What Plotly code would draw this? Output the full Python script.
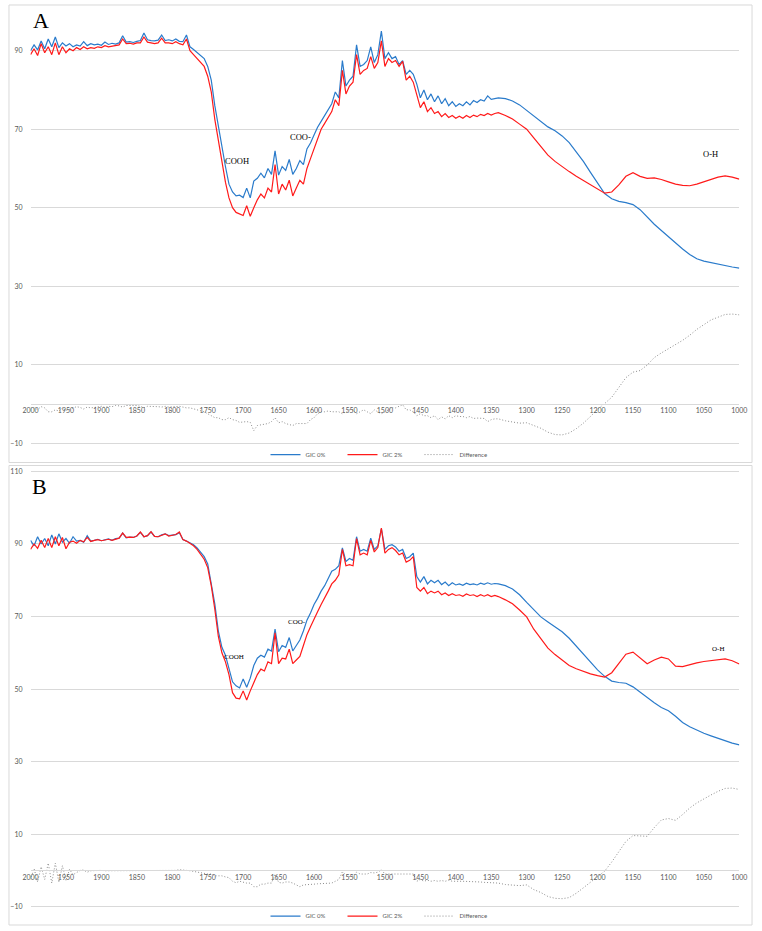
import plotly.graph_objects as go

# ---------------- data ----------------
wavenumber = list(range(2000, 1340, -5)) + list(range(1340, 999, -10))
x_ticks = list(range(2000, 999, -50))
y_ticks = [-10, 10, 30, 50, 70, 90, 110]

gic0_A = [
    90.0, 91.5, 90.2, 92.5, 90.5, 93.0, 91.0, 93.5, 90.8, 92.0,
    91.2, 91.8, 91.0, 91.5, 91.2, 92.3, 91.3, 91.8, 91.5, 91.7,
    91.4, 92.2, 91.6, 91.9, 91.7, 92.0, 93.8, 92.2, 92.3, 92.1,
    92.4, 92.6, 94.5, 92.8, 92.6, 92.5, 92.7, 94.0, 92.6, 92.8,
    92.5, 93.0, 92.4, 92.3, 94.0, 91.0, 90.3, 89.5, 88.7, 88.0,
    86.0, 82.5, 76.0, 70.5, 65.5, 60.5, 56.0, 54.0, 53.0, 53.2,
    52.6, 55.0, 52.5, 56.8, 57.5, 58.8, 57.6, 60.0, 58.5, 64.5,
    58.3, 60.5, 59.5, 62.3, 58.5, 60.0, 62.0, 61.0, 65.0, 66.5,
    68.5, 70.5, 72.0, 73.5, 74.8, 76.5, 79.5, 78.0, 87.5, 81.0,
    82.5, 83.5, 91.5, 86.0, 86.5, 87.5, 91.0, 87.0, 89.0, 95.0,
    88.0, 89.5, 88.0, 88.5, 86.5, 87.5, 84.0, 85.0, 84.0, 81.5,
    78.0, 80.0, 77.5, 79.0, 77.0, 78.5, 76.5, 77.8, 76.0, 77.0,
    75.8, 76.5, 76.0, 77.0, 76.2, 77.3, 76.8, 77.5, 77.2, 78.5,
    77.6, 77.8,
    78.0, 77.8, 77.2, 76.2, 74.8, 73.3, 71.8, 70.6, 69.6, 68.3,
    66.6, 64.3, 61.8, 59.0, 56.2, 53.6, 52.3, 51.6, 51.3, 50.8,
    49.5, 47.6, 45.8, 44.2, 42.6, 41.0, 39.5, 38.1, 37.0, 36.4,
    36.0, 35.7, 35.3, 34.9, 34.6,
]

gic2_A = [
    89.0, 90.5, 88.8, 91.8, 89.5, 91.0, 89.0, 92.0, 89.0, 91.0,
    89.5, 90.5, 90.0, 90.8, 90.3, 91.0, 90.5, 90.8, 90.6, 91.0,
    90.8, 91.3, 91.0, 91.2, 91.3, 91.5, 93.0, 91.8, 91.9, 91.7,
    92.0, 92.0, 93.5, 92.2, 92.0, 91.8, 92.0, 93.2, 92.0, 92.0,
    91.8, 92.3, 91.8, 91.5, 93.0, 90.0, 89.0, 88.0, 87.0, 86.0,
    83.5, 79.5, 72.5, 67.0, 61.5, 56.5, 52.5, 50.0, 48.8, 48.5,
    48.0, 50.5, 47.8, 50.0, 52.0, 53.5, 52.5, 55.0, 54.0, 61.0,
    53.5, 56.0, 54.5, 57.0, 53.0, 55.0, 57.0, 56.0, 60.0, 62.5,
    65.0, 68.0, 70.0, 71.5, 73.0, 74.5, 77.5, 76.0, 85.0, 79.0,
    81.0, 82.0, 89.0, 84.0, 85.0, 85.5, 88.5, 85.5, 87.0, 92.5,
    86.0, 88.0, 87.0, 87.5, 86.0, 87.3, 82.5, 83.5, 82.0, 78.5,
    75.5, 77.0, 74.5, 75.5, 74.0, 74.5, 73.2, 74.0, 73.0, 73.5,
    72.8, 73.3, 72.8, 73.5, 73.0, 73.6, 73.2, 73.8, 73.5, 74.0,
    73.6, 74.0,
    74.2, 73.5, 72.6, 71.3, 70.0, 67.8, 65.6, 63.4, 61.8, 60.4,
    59.2, 58.0, 56.9, 55.8, 54.8, 53.7, 54.0, 55.8, 58.0, 58.9,
    58.0, 57.5, 57.6, 57.2, 56.6, 56.0, 55.7, 55.6, 56.0, 56.6,
    57.4, 57.8, 58.1, 57.8, 57.3,
]

gic0_B = [
    91.0, 89.5, 92.0, 90.0, 91.5, 89.5, 92.5, 90.0, 92.8, 90.5,
    91.5, 90.2, 92.0, 90.8, 91.0, 90.5, 92.3, 90.8, 91.0, 91.3,
    90.9, 91.2, 91.4, 91.0, 91.5, 91.6, 93.0, 91.7, 91.9, 91.8,
    92.2, 93.2, 92.0, 92.3, 93.3, 92.1, 92.0, 92.5, 92.8, 92.3,
    92.5, 92.6, 93.1, 91.2, 90.8, 90.3, 89.8, 88.9, 87.8, 86.5,
    84.5, 79.5, 73.5, 66.0, 61.5, 59.3, 56.0, 52.0, 50.9, 50.3,
    52.8, 50.5, 53.0, 56.5, 58.5, 59.3, 58.8, 61.0, 60.5, 66.5,
    60.3, 62.0, 61.5, 64.2, 60.5, 62.0, 63.5, 66.0, 69.0, 71.0,
    73.3, 75.0, 77.0, 78.5, 80.5, 82.5, 83.0, 84.0, 88.9, 85.2,
    86.0, 85.5, 92.0, 88.0, 88.5, 88.0, 91.6, 88.5, 89.5, 94.2,
    88.5, 89.5, 89.8, 89.2, 88.0, 88.5, 86.0, 86.5, 87.5, 81.0,
    79.5, 81.0, 79.0, 80.0, 79.3, 80.0, 78.8, 79.5, 78.5, 79.3,
    78.7, 79.0, 78.6, 79.2, 78.8, 79.0, 78.7, 79.2, 78.9, 79.3,
    78.9, 79.1,
    79.0, 78.5, 77.6, 76.0, 73.9, 71.8, 69.9, 68.5, 67.2, 65.8,
    64.0, 61.9, 59.6, 57.4, 55.3, 53.5, 52.2, 51.8, 51.6, 50.6,
    49.1, 47.6, 46.2, 44.9, 44.0, 42.5, 40.8, 39.6, 38.6, 37.8,
    37.1, 36.4, 35.7, 35.1, 34.6,
]

gic2_B = [
    88.5, 90.0, 88.8, 91.0, 89.0, 91.5, 89.0, 92.0, 89.5, 91.8,
    88.7, 90.5, 90.8, 90.2, 91.0, 90.6, 91.8, 90.7, 91.0, 91.2,
    90.9, 91.1, 91.3, 91.0, 91.4, 91.6, 93.0, 91.8, 91.9, 91.8,
    92.2, 93.3, 92.0, 92.3, 93.4, 92.1, 92.0, 92.4, 92.8, 92.2,
    92.4, 92.6, 93.3, 91.2, 90.8, 90.2, 89.5, 88.5, 87.2, 85.8,
    83.5, 78.5, 72.0, 64.5, 60.0, 57.5, 54.0, 49.0, 47.5, 47.3,
    49.5, 47.0, 49.5, 52.0, 54.0, 55.5, 55.0, 57.5, 57.0, 65.5,
    57.0, 58.5, 58.3, 61.0, 57.0, 58.0, 59.0, 62.0, 65.0, 67.2,
    69.5, 71.3, 73.3, 75.0, 77.0, 79.0, 80.0, 81.5, 88.5, 84.0,
    84.3, 84.0, 91.5, 87.0, 87.5, 87.0, 91.0, 87.8, 89.0, 94.4,
    87.5, 88.5, 89.0, 88.2, 87.0, 87.5, 85.0, 85.5, 86.5, 78.0,
    77.0, 78.0, 76.3, 77.0, 76.5, 77.0, 76.0, 76.5, 75.8, 76.3,
    75.8, 76.0, 75.6, 76.2, 75.8, 76.0, 75.5, 76.0, 75.6, 76.0,
    75.5, 75.8,
    75.5, 74.6, 73.5, 71.8, 69.9, 66.5, 63.8, 61.3, 59.5, 58.0,
    56.5, 55.6, 54.8, 54.2, 53.7, 53.3, 54.5, 57.0, 59.6, 60.2,
    58.5, 57.0, 58.0, 58.8, 58.3, 56.3, 56.2, 56.8, 57.2, 57.6,
    57.9, 58.2, 58.3, 57.8, 56.9,
]

# "Difference" series = GIC 2% minus GIC 0%
diff_A = [round(r - b, 2) for r, b in zip(gic2_A, gic0_A)]
diff_B = [round(r - b, 2) for r, b in zip(gic2_B, gic0_B)]

# ---------------- styling / layout ----------------
W, H = 762, 931
BLUE = "#2A7BCB"
RED = "#FF1A1A"
GREY = "#8C8C8C"
GRID = "#D9D9D9"
TICKC = "#595959"
FONT = "Lato"


def py(pix):
    return 1 - pix / H


x_dom = [23 / W, 747 / W]
rangeA = [-10.3, 100.9]
rangeB = [-10.3, 110.3]
domA = [py(444.7), py(5.0)]
domB = [py(911.6), py(470.9)]


def zero_pos(dom, rng):
    return dom[0] + (0 - rng[0]) / (rng[1] - rng[0]) * (dom[1] - dom[0])


fig = go.Figure()

for (g0, g2, df, xa, ya, lg) in [
    (gic0_A, gic2_A, diff_A, "x", "y", "legend"),
    (gic0_B, gic2_B, diff_B, "x2", "y2", "legend2"),
]:
    fig.add_trace(go.Scatter(x=wavenumber, y=g0, mode="lines", name="GIC 0%",
                             line=dict(color=BLUE, width=1.2),
                             xaxis=xa, yaxis=ya, legend=lg))
    fig.add_trace(go.Scatter(x=wavenumber, y=g2, mode="lines", name="GIC 2%",
                             line=dict(color=RED, width=1.2),
                             xaxis=xa, yaxis=ya, legend=lg))
    fig.add_trace(go.Scatter(x=wavenumber, y=df, mode="lines", name="Difference",
                             line=dict(color=GREY, width=1, dash="1px,2px"),
                             xaxis=xa, yaxis=ya, legend=lg))

xcommon = dict(range=[2000, 1000], domain=x_dom, tickvals=x_ticks,
               ticktext=[str(v) for v in x_ticks], showgrid=False,
               zeroline=False, showline=True, linecolor=GRID, linewidth=1,
               ticks="", tickfont=dict(size=7, color=TICKC, family=FONT),
               anchor="free")
ycommon = dict(tickvals=y_ticks, showgrid=True, gridcolor=GRID, gridwidth=1,
               zeroline=False, showline=False, ticks="",
               tickfont=dict(size=7, color=TICKC, family=FONT),
               ticklabelstandoff=7)

legcommon = dict(orientation="h", xanchor="center", x=0.5, yanchor="middle",
                 font=dict(size=6, color=TICKC, family=FONT),
                 bgcolor="rgba(0,0,0,0)", itemwidth=30, tracegroupgap=0,
                 entrywidth=32, entrywidthmode="pixels")

fig.update_layout(
    width=W, height=H,
    margin=dict(l=0, r=0, t=0, b=0),
    paper_bgcolor="white", plot_bgcolor="white",
    xaxis=dict(**xcommon, position=zero_pos(domA, rangeA)),
    yaxis=dict(**ycommon, range=rangeA, domain=domA, anchor="x"),
    xaxis2=dict(**xcommon, position=zero_pos(domB, rangeB)),
    yaxis2=dict(**ycommon, range=rangeB, domain=domB, anchor="x2"),
    legend=dict(**legcommon, y=py(455)),
    legend2=dict(**legcommon, y=py(920)),
    showlegend=True,
)

# panel borders
for (top, bot) in [(2, 463), (466, 929)]:
    fig.add_shape(type="rect", xref="paper", yref="paper",
                  x0=1 / W, x1=760 / W, y0=py(bot), y1=py(top),
                  line=dict(color=GRID, width=1), fillcolor="rgba(0,0,0,0)",
                  layer="below")

SERIF = "Liberation Serif"
# panel letters
fig.add_annotation(text="A", xref="paper", yref="paper", x=33.5 / W, y=py(18),
                   xanchor="center", yanchor="middle", showarrow=False,
                   font=dict(family=SERIF, size=22, color="black"))
fig.add_annotation(text="B", xref="paper", yref="paper", x=32 / W, y=py(487),
                   xanchor="center", yanchor="middle", showarrow=False,
                   font=dict(family=SERIF, size=22, color="black"))

# band labels
labelsA = [("COOH", 1708, 62.0), ("COO-", 1619, 68.0), ("O-H", 1041, 63.7)]
labelsB = [("COOH", 1713, 58.8), ("COO-", 1624, 68.4), ("O-H", 1030, 61.0)]
for t, xv, yv in labelsA:
    fig.add_annotation(text=t, x=xv, y=yv, xref="x", yref="y", showarrow=False,
                       xanchor="center", yanchor="middle",
                       font=dict(family=SERIF, size=8.5, color="black"))
for t, xv, yv in labelsB:
    fig.add_annotation(text=t, x=xv, y=yv, xref="x2", yref="y2", showarrow=False,
                       xanchor="center", yanchor="middle",
                       font=dict(family=SERIF, size=7, color="black"))

fig.write_html("out.html")
